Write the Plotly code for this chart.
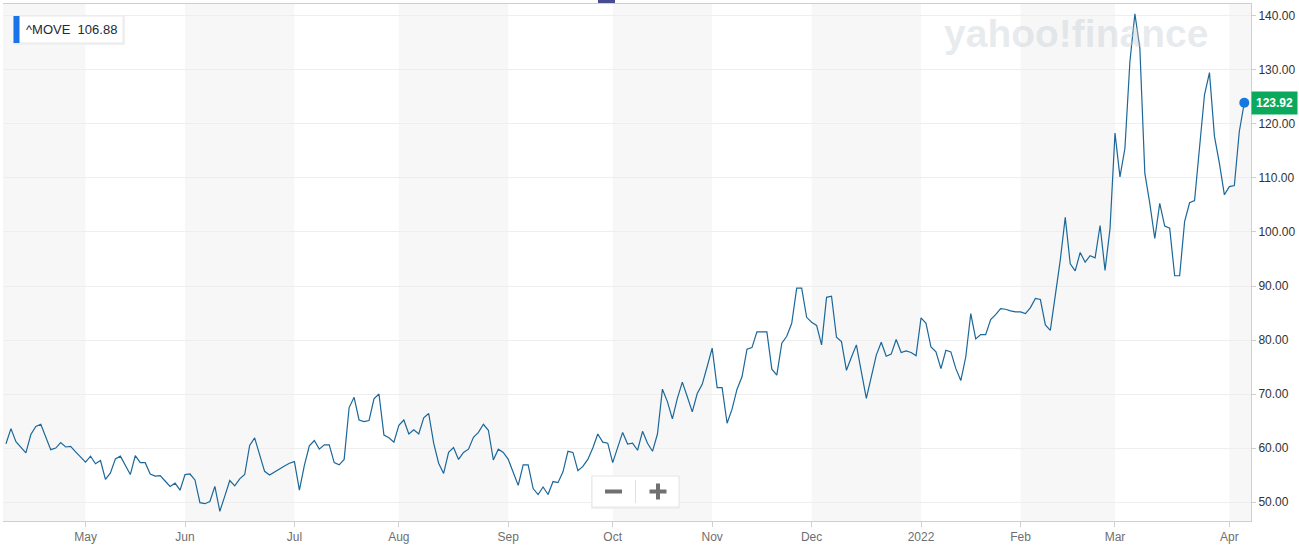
import pandas as pd
import plotly.graph_objects as go

# ---- data ----
apr21 = [60.8, 63.6, 61.2, 60.2, 59.1, 62.5, 64.0, 64.4, 62.0, 59.7, 60.0, 61.0, 60.2, 60.3, 59.3, 58.3]
may21 = [57.4, 58.5, 57.1, 57.7, 54.2, 55.4, 58.0, 58.5, 56.8, 55.1, 58.6, 57.3, 57.3, 55.2, 54.8, 54.9,
         53.9, 52.9, 53.5, 52.2]
jun21 = [55.1, 55.2, 54.1, 49.9, 49.7, 50.1, 52.9, 48.3, 51.1, 54.0, 53.0, 54.3, 55.1, 60.5, 61.9, 58.6,
         55.7, 55.0, 55.6, 56.2, 56.7, 57.2]
jul21 = [57.5, 52.2, 56.8, 60.4, 61.4, 59.8, 60.6, 60.6, 57.3, 56.9, 57.9, 67.5, 69.4, 65.2, 64.9, 65.1,
         69.1, 70.0, 62.4, 61.9, 61.1]
aug21 = [64.2, 65.2, 62.6, 63.4, 62.6, 65.6, 66.4, 60.9, 57.2, 55.3, 59.2, 60.1, 57.9, 59.2, 59.8, 62.0,
         62.9, 64.4, 63.3, 57.8, 59.8, 59.2]
sep21 = [57.9, 55.6, 53.1, 56.9, 56.9, 52.5, 51.4, 52.8, 51.4, 53.8, 53.6, 55.6, 59.4, 59.2, 55.8, 56.6,
         57.9, 60.0, 62.6, 61.1, 60.9]
oct21 = [57.3, 60.25, 62.9, 60.75, 60.9, 59.6, 63.1, 60.9, 59.4, 62.6, 70.9, 68.6, 65.4, 69.2, 72.2, 69.5,
         66.7, 70.1, 71.8, 75.1]
nov21 = [78.5, 71.2, 71.2, 64.6, 67.2, 70.9, 73.2, 78.3, 78.6, 81.5, 81.5, 81.5, 74.6, 73.5, 79.4, 80.7,
         83.1, 89.6, 89.6, 84.2]
dec21 = [83.3, 82.7, 79.1, 87.9, 88.1, 80.5, 79.7, 74.4, 76.8, 79.1, 74.1, 69.2, 73.2, 77.2, 79.6, 77.0,
         77.4, 80.1, 77.7, 78.0, 77.7, 77.1]
jan22 = [84.1, 83.1, 78.7, 77.8, 74.7, 78.1, 77.8, 74.7, 72.5, 76.9, 84.9, 80.2, 81.0, 81.0, 83.8, 84.7,
         85.8, 85.7, 85.4, 85.2]
feb22 = [85.2, 84.9, 86.0, 87.7, 87.5, 82.8, 81.8, 88.6, 94.8, 102.7, 94.1, 92.8, 96.2, 94.4, 95.6, 95.2,
         101.2, 92.9, 100.6]
mar22 = [118.3, 110.2, 115.5, 131.5, 140.4, 134.0, 110.9, 105.3, 98.8, 105.3, 101.1, 100.7, 91.9, 91.9,
         101.9, 105.4, 105.8, 115.2, 125.4, 129.5, 117.7, 112.7, 106.88]
apr22 = [108.4, 108.6, 118.6, 123.92]

# bond-market trading days (weekends and SIFMA holidays removed)
start_date, end_date = "2021-04-09", "2022-04-06"
holidays = ["2021-05-31", "2021-07-05", "2021-09-06", "2021-10-11", "2021-11-11",
            "2021-11-25", "2021-12-24", "2022-01-17", "2022-02-21"]

month_labels = ["May", "Jun", "Jul", "Aug", "Sep", "Oct", "Nov", "Dec", "2022", "Feb", "Mar", "Apr"]
y_ticks = [50, 60, 70, 80, 90, 100, 110, 120, 130, 140]

symbol = "^MOVE"
hover_value = "106.88"

# ---- build ----
values = apr21 + may21 + jun21 + jul21 + aug21 + sep21 + oct21 + nov21 + dec21 + jan22 + feb22 + mar22 + apr22
days = [d for d in pd.bdate_range(start_date, end_date) if d.strftime("%Y-%m-%d") not in holidays]
dates = [d.strftime("%Y-%m-%d") for d in days]
assert len(dates) == len(values), (len(dates), len(values))

# first trading day of each month
month_starts = []
for i, d in enumerate(days):
    if i == 0 or d.month != days[i - 1].month:
        month_starts.append(i)
tick_idx = month_starts[1:]
tickvals = [dates[i] for i in tick_idx]

W, H = 1299, 551
L, R, T, B = 3, 1251, 4, 521


def px(X):
    return (X - L) / (R - L)


def py(Y):
    return 1 - (Y - T) / (B - T)


x_range = [-0.6, len(values) + 0.35]

fig = go.Figure()
fig.add_trace(go.Scatter(x=dates, y=values, mode="lines",
                         line=dict(color="#1b6799", width=1.2),
                         hoverinfo="x+y", showlegend=False))
fig.add_trace(go.Scatter(x=[dates[-1]], y=[values[-1]], mode="markers",
                         marker=dict(color="#1677e0", size=10),
                         hoverinfo="skip", showlegend=False))

shapes = []
# alternating month shading
edges = [x_range[0]] + tick_idx + [x_range[1]]
for k in range(0, len(edges) - 1, 2):
    shapes.append(dict(type="rect", xref="x", yref="paper", x0=edges[k], x1=edges[k + 1],
                       y0=0, y1=1, fillcolor="#f7f7f7", line=dict(width=0), layer="below"))

# symbol box (soft shadow + box + blue marker)
shapes.append(dict(type="rect", xref="paper", yref="paper", x0=px(13), x1=px(125), y0=py(45), y1=py(15),
                   fillcolor="#f0f0f0", line=dict(width=0), layer="above"))
shapes.append(dict(type="rect", xref="paper", yref="paper", x0=px(14), x1=px(123), y0=py(43), y1=py(16),
                   fillcolor="white", line=dict(color="#e9e9e9", width=1), layer="above"))
shapes.append(dict(type="rect", xref="paper", yref="paper", x0=px(13.5), x1=px(19.5), y0=py(43), y1=py(16),
                   fillcolor="#1a73e8", line=dict(width=0), layer="above"))
# top marker
shapes.append(dict(type="rect", xref="paper", yref="paper", x0=px(598), x1=px(615), y0=py(3), y1=py(0),
                   fillcolor="#464c8f", line=dict(width=0), layer="above"))
# zoom control box
shapes.append(dict(type="rect", xref="paper", yref="paper", x0=px(591), x1=px(680), y0=py(509), y1=py(476),
                   fillcolor="#f0f0f0", line=dict(width=0), layer="above"))
shapes.append(dict(type="rect", xref="paper", yref="paper", x0=px(592), x1=px(679), y0=py(507), y1=py(476),
                   fillcolor="white", line=dict(color="#e6e6e6", width=1), layer="above"))
shapes.append(dict(type="line", xref="paper", yref="paper", x0=px(635.5), x1=px(635.5), y0=py(503), y1=py(480),
                   line=dict(color="#e0e0e0", width=1), layer="above"))
shapes.append(dict(type="rect", xref="paper", yref="paper", x0=px(605), x1=px(622), y0=py(493.5), y1=py(489.5),
                   fillcolor="#707070", line=dict(width=0), layer="above"))
shapes.append(dict(type="rect", xref="paper", yref="paper", x0=px(649.5), x1=px(666.5), y0=py(493.5), y1=py(489.5),
                   fillcolor="#707070", line=dict(width=0), layer="above"))
shapes.append(dict(type="rect", xref="paper", yref="paper", x0=px(656), x1=px(660), y0=py(499.5), y1=py(483.5),
                   fillcolor="#707070", line=dict(width=0), layer="above"))

annotations = [
    dict(xref="paper", yref="paper", x=px(1076), y=py(33), text="yahoo!finance", showarrow=False,
         font=dict(family="Liberation Sans, Arial", size=39, color="rgba(200,206,214,0.42)", weight="bold"),
         xanchor="center", yanchor="middle"),
    dict(xref="paper", yref="paper", x=px(24), y=py(29.5), text=f"{symbol}&nbsp;&nbsp;{hover_value}",
         showarrow=False, font=dict(family="Liberation Sans, Arial", size=13, color="#232a31"),
         xanchor="left", yanchor="middle"),
    dict(xref="paper", yref="y", x=1.0, y=values[-1], text=f"<b>{values[-1]:.2f}</b>", showarrow=False,
         font=dict(family="Liberation Sans, Arial", size=12, color="white"),
         bgcolor="#0ba95b", borderpad=4, xanchor="left", yanchor="middle"),
]

fig.update_layout(
    width=W, height=H,
    margin=dict(l=L, r=W - R, t=T, b=H - B, autoexpand=False),
    paper_bgcolor="white", plot_bgcolor="rgba(0,0,0,0)",
    shapes=shapes, annotations=annotations,
    font=dict(family="Liberation Sans, Arial", size=12),
    hovermode="x",
    xaxis=dict(type="category", range=x_range, tickmode="array", tickvals=tickvals, ticktext=month_labels,
               showgrid=False, showline=True, linecolor="#cfcfcf", linewidth=1, mirror=True,
               ticks="outside", ticklen=5, tickcolor="#cfcfcf",
               tickfont=dict(color="#6f6f6f", size=12), zeroline=False),
    yaxis=dict(side="right", range=[46.5, 142.2], tickmode="array", tickvals=y_ticks, tickformat=".2f",
               showgrid=True, gridcolor="#eeeeee", gridwidth=1, showline=True, linecolor="#cfcfcf",
               ticks="outside", ticklen=4, tickcolor="#cfcfcf",
               tickfont=dict(color="#333333", size=12), zeroline=False),
)

fig.write_html("out.html", config={"displayModeBar": False},
               post_script="document.body.style.margin='0';document.body.style.overflow='hidden';")
